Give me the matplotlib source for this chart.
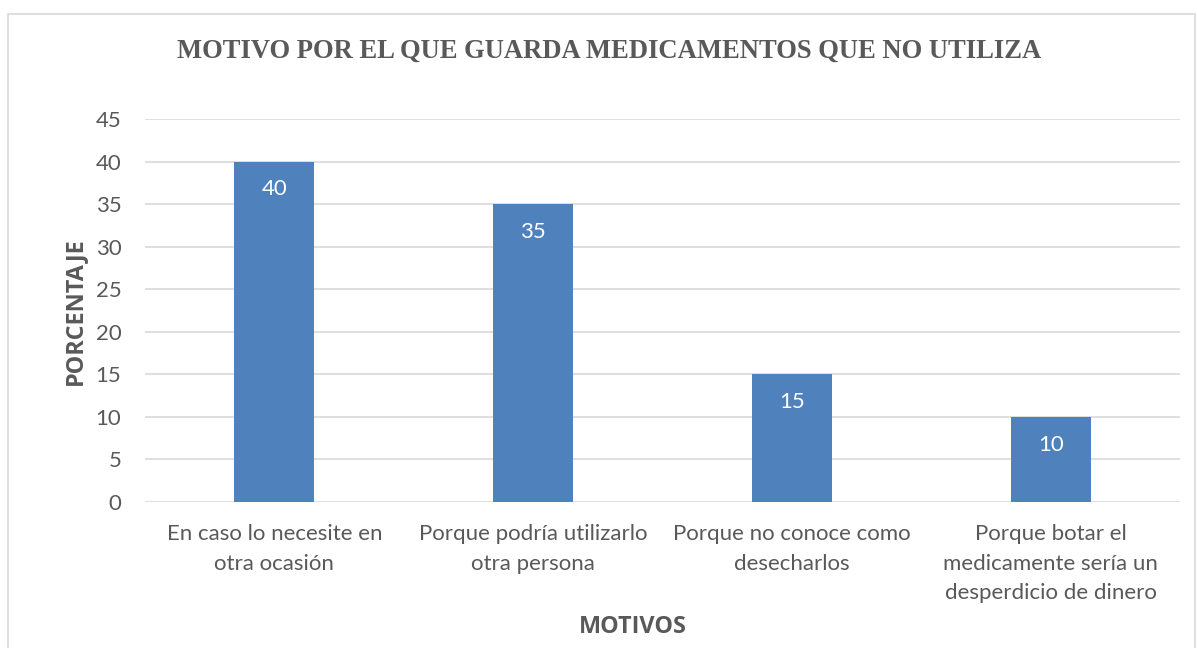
import matplotlib.pyplot as plt
from matplotlib.patches import Rectangle

# data
categories = ['En caso lo necesite en\notra ocasión',
              'Porque podría utilizarlo\notra persona',
              'Porque no conoce como\ndesecharlos',
              'Porque botar el\nmedicamente sería un\ndesperdicio de dinero']
values = [40, 35, 15, 10]
yticks = [0, 5, 10, 15, 20, 25, 30, 35, 40, 45]

sans = ['Lato', 'DejaVu Sans']
bold_sans = ['Open Sans', 'DejaVu Sans']
serif = ['Liberation Serif', 'DejaVu Serif']
grey = '#595959'

fig = plt.figure(figsize=(11.97, 6.48), dpi=100)
ax = fig.add_axes([145 / 1197, 1 - 502 / 648, (1180 - 145) / 1197, (502 - 119) / 648])

x = list(range(len(values)))
bars = ax.bar(x, values, width=0.31, color='#4F81BD', zorder=3)
for xi, v in zip(x, values):
    ax.annotate(str(v), (xi, v), xytext=(0, -20), textcoords='offset points',
                ha='center', va='center', color='white', fontsize=16,
                family=sans)

ax.set_xlim(-0.5, len(values) - 0.5)
ax.set_ylim(0, 45)
ax.set_yticks(yticks)
ax.set_xticks(x)
ax.set_xticklabels(categories, family=sans, fontsize=16, color=grey,
                   linespacing=1.58, va='top')
for lab in ax.get_yticklabels():
    lab.set_family(sans)
    lab.set_fontsize(16)
    lab.set_color(grey)
ax.tick_params(axis='y', length=0, pad=17)
ax.tick_params(axis='x', length=0, pad=16)
ax.grid(axis='y', color='#d9d9d9', linewidth=1.2, zorder=0)
for s in ax.spines.values():
    s.set_visible(False)

fig.text(609 / 1197, 1 - 51 / 648, 'MOTIVO POR EL QUE GUARDA MEDICAMENTOS QUE NO UTILIZA',
         ha='center', va='center', family=serif, fontweight='bold',
         fontsize=19.2, color=grey)
fig.text(75 / 1197, 1 - 311 / 648, 'PORCENTAJE', rotation=90, ha='center',
         va='center', family=bold_sans, fontweight='bold', fontsize=16.8,
         color=grey)
fig.text(633 / 1197, 1 - 627 / 648, 'MOTIVOS', ha='center', va='center',
         family=bold_sans, fontweight='bold', fontsize=16.8, color=grey)

# chart border
fig.patches.append(Rectangle((8 / 1197, -0.05), (1195 - 8) / 1197, 1.05 - 14 / 648,
                             transform=fig.transFigure, fill=False,
                             edgecolor='#d9d9d9', linewidth=1.2))

fig.savefig('out.png', dpi=100)
